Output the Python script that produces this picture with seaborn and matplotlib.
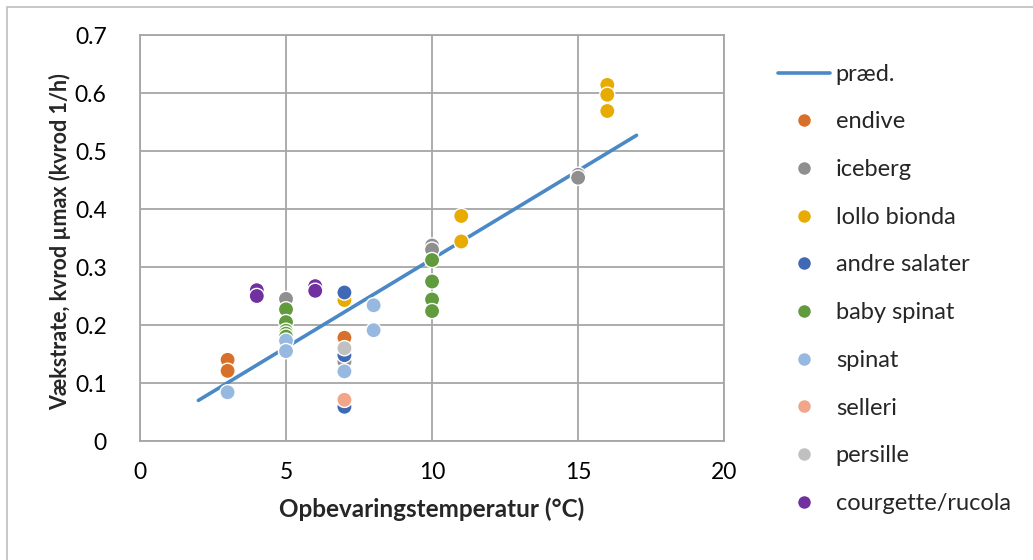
import pandas as pd
import matplotlib.pyplot as plt
import matplotlib.patches as mpatches
import seaborn as sns

# ── DATA ─────────────────────────────────────────────────────────────
pred_x = [2, 17]
pred_y = [0.070, 0.527]

endive_x = [3, 3, 7]
endive_y = [0.140, 0.121, 0.178]
iceberg_x = [5, 7, 10, 10, 15, 15]
iceberg_y = [0.245, 0.137, 0.337, 0.330, 0.459, 0.454]
lollo_x = [7, 11, 11, 16, 16, 16]
lollo_y = [0.243, 0.388, 0.344, 0.614, 0.597, 0.569]
andre_x = [7, 7, 7]
andre_y = [0.256, 0.148, 0.059]
baby_x = [5, 5, 5, 5, 5, 10, 10, 10, 10]
baby_y = [0.227, 0.205, 0.190, 0.185, 0.180, 0.312, 0.275, 0.244, 0.224]
spinat_x = [3, 5, 5, 7, 8, 8]
spinat_y = [0.084, 0.173, 0.155, 0.120, 0.234, 0.191]
selleri_x = [7]
selleri_y = [0.071]
persille_x = [7]
persille_y = [0.160]
courg_x = [4, 4, 6, 6]
courg_y = [0.260, 0.250, 0.267, 0.259]

series = [
    ("endive", endive_x, endive_y, "#D7702B"),
    ("iceberg", iceberg_x, iceberg_y, "#8F8F8F"),
    ("lollo bionda", lollo_x, lollo_y, "#E8AB02"),
    ("andre salater", andre_x, andre_y, "#3F68B5"),
    ("baby spinat", baby_x, baby_y, "#629B3E"),
    ("spinat", spinat_x, spinat_y, "#97B9E0"),
    ("selleri", selleri_x, selleri_y, "#F1A68A"),
    ("persille", persille_x, persille_y, "#C0C0C0"),
    ("courgette/rucola", courg_x, courg_y, "#7030A0"),
]

df = pd.concat([pd.DataFrame({"x": xs, "y": ys, "sort": name})
                for name, xs, ys, _ in series], ignore_index=True)
palette = {name: c for name, _, _, c in series}
pred = pd.DataFrame({"x": pred_x, "y": pred_y})

# ── PLOT ─────────────────────────────────────────────────────────────
sns.set_style("white")
plt.rcParams["font.family"] = ["Lato", "DejaVu Sans"]

fig = plt.figure(figsize=(10.33, 5.6), dpi=100)
ax = fig.add_axes([0.1355, 0.2125, 0.5655, 0.725])

sns.lineplot(data=pred, x="x", y="y", ax=ax, color="#4A89C5", lw=2.6,
             label="præd.", zorder=2)
sns.scatterplot(data=df, x="x", y="y", hue="sort", palette=palette, ax=ax,
                s=120, edgecolor="white", linewidth=1.0, zorder=3)

ax.set_xlim(0, 20)
ax.set_ylim(0, 0.7)
ax.set_xticks([0, 5, 10, 15, 20])
ax.set_yticks([0, 0.1, 0.2, 0.3, 0.4, 0.5, 0.6, 0.7])
ax.set_yticklabels(["0", "0.1", "0.2", "0.3", "0.4", "0.5", "0.6", "0.7"])
ax.grid(True, color="#A6A6A6", lw=1.3)
ax.set_axisbelow(True)
for sp in ax.spines.values():
    sp.set_color("#A6A6A6")
    sp.set_linewidth(1.3)
ax.tick_params(axis="both", labelsize=16.5, colors="#A6A6A6", length=6,
               width=1.3, labelcolor="black", pad=9)
ax.tick_params(axis="y", pad=18)

ax.set_xlabel("Opbevaringstemperatur (°C)", fontsize=17.5, fontweight="bold")
ax.set_ylabel("Vækstrate, kvrod µmax (kvrod 1/h)", fontsize=15.5,
              fontweight="bold")
ax.xaxis.set_label_coords(0.5, -0.14)
ax.yaxis.set_label_coords(-0.118, 0.49)

handles, labels = ax.get_legend_handles_labels()
for h in handles[1:]:
    h.set_markersize(9)
    h.set_markeredgecolor("none")
ax.legend(handles, labels, loc="upper left", bbox_to_anchor=(0.744, 0.903),
          bbox_transform=fig.transFigure, frameon=False, fontsize=17,
          labelspacing=1.13, handlelength=2.2, handletextpad=0.25,
          borderaxespad=0)

fig.patches.append(mpatches.Rectangle((0.007, -0.05), 1.2, 1.0375,
                                      transform=fig.transFigure, fill=False,
                                      edgecolor="#BFBFBF", lw=1.2))

plt.savefig("out.png", dpi=100)
